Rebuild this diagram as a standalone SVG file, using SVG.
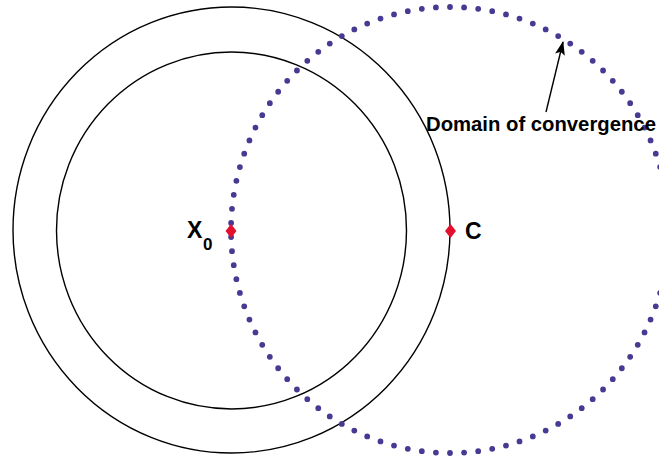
<svg xmlns="http://www.w3.org/2000/svg" width="659" height="462" viewBox="0 0 659 462">
  <style>
    .ring { fill: none; stroke: #000; stroke-width: 1.4; }
    .dots { fill: none; stroke: #463b93; stroke-width: 5.8; stroke-linecap: round; stroke-dasharray: 0 1; stroke-dashoffset: 0.5; }
    .pt { fill: #e2102c; }
    .lbl { font-family: "Liberation Sans", Arial, sans-serif; font-weight: bold; fill: #000; }
  </style>
  <defs>
    <marker id="arrow" viewBox="0 0 14 10" refX="13" refY="5" markerWidth="14" markerHeight="10" markerUnits="userSpaceOnUse" orient="auto">
      <path d="M0,0 L14,5 L0,10 L3,5 Z" fill="#000"/>
    </marker>
  </defs>
  <rect width="659" height="462" fill="#fff"/>
  <g id="outer-circle">
    <ellipse class="ring" cx="231.5" cy="230" rx="218.5" ry="223"/>
  </g>
  <g id="inner-circle">
    <ellipse class="ring" cx="231.5" cy="230.5" rx="175" ry="178.5"/>
  </g>
  <g id="domain">
    <ellipse class="dots" cx="450" cy="230" rx="219" ry="223" pathLength="98"/>
  </g>
  <g id="x0">
    <polygon class="pt" points="231,224 236.5,231 231,238 225.5,231"/>
    <text class="lbl" x="187" y="238" font-size="23">X</text>
    <text class="lbl" x="203" y="250" font-size="17">0</text>
  </g>
  <g id="c">
    <polygon class="pt" points="450.5,224 456,231 450.5,238 445,231"/>
    <text class="lbl" x="465" y="239" font-size="23">C</text>
  </g>
  <g id="connectors">
    <line x1="546" y1="112" x2="563" y2="42" stroke="#000" stroke-width="1.4" marker-end="url(#arrow)"/>
  </g>
  <g id="label">
    <text class="lbl" x="426" y="131" font-size="20.3">Domain of convergence</text>
  </g>
</svg>
